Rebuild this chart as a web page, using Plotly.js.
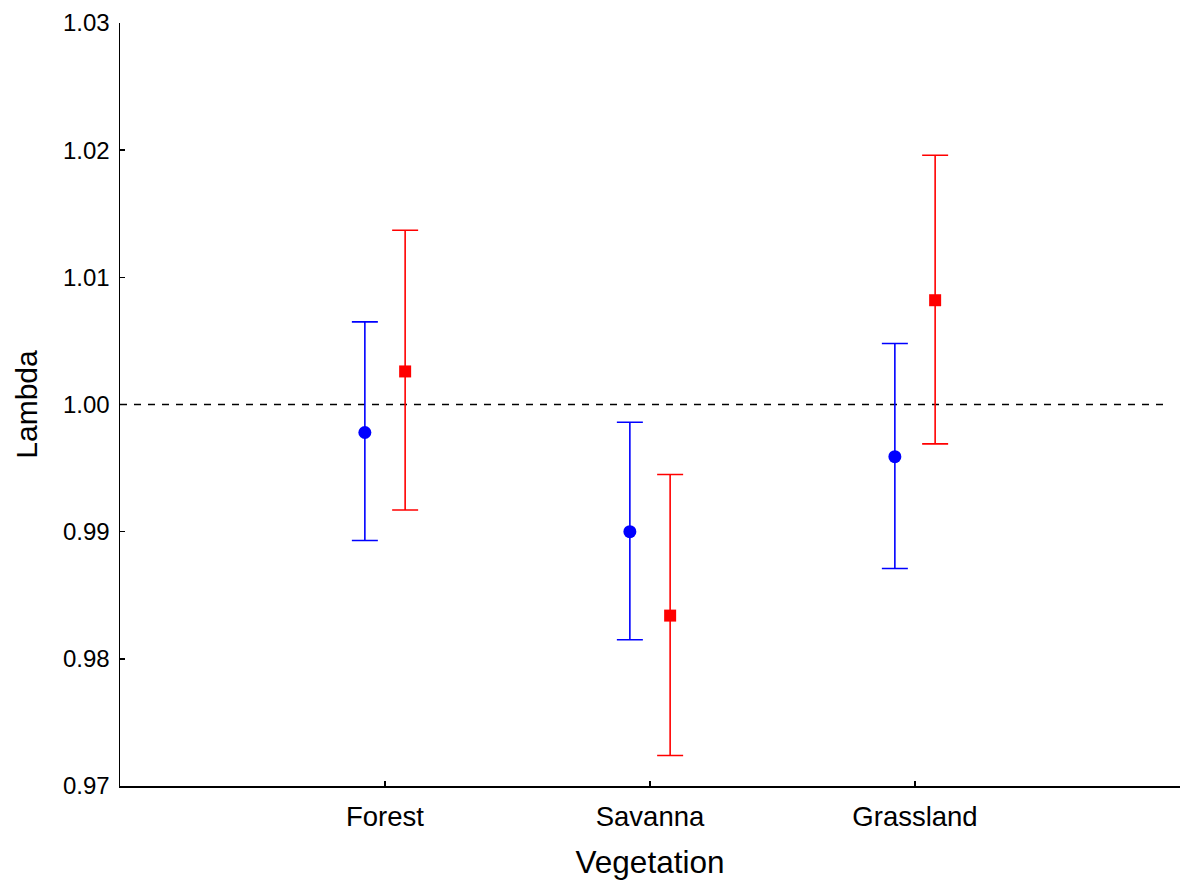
<!DOCTYPE html>
<html>
<head>
<meta charset="utf-8">
<script src="https://cdn.plot.ly/plotly-3.0.1.min.js"></script>
<style>html,body{margin:0;padding:0;background:#fff;}#chart{width:1181px;height:880px;}</style>
</head>
<body>
<div id="chart"></div>
<script>
// Data
const categories = ['Forest', 'Savanna', 'Grassland'];
const blueMean  = [0.9978, 0.9900, 0.9959];
const blueUpper = [1.0065, 0.9986, 1.0048];
const blueLower = [0.9893, 0.9815, 0.9871];
const redMean   = [1.0026, 0.9834, 1.0082];
const redUpper  = [1.0137, 0.9945, 1.0196];
const redLower  = [0.9917, 0.9724, 0.9969];
const yTickVals = [0.97, 0.98, 0.99, 1.00, 1.01, 1.02, 1.03];
const yTickText = ['0.97', '0.98', '0.99', '1.00', '1.01', '1.02', '1.03'];

const idx = categories.map((_, i) => i);
const off = 0.076;

const blue = {
  x: idx.map(i => i - off), y: blueMean, type: 'scatter', mode: 'markers',
  marker: {symbol: 'circle', size: 13, color: '#0000ff'},
  error_y: {type: 'data', symmetric: false,
    array: blueUpper.map((u, i) => u - blueMean[i]),
    arrayminus: blueLower.map((l, i) => blueMean[i] - l),
    color: '#0000ff', thickness: 1.6, width: 13},
  showlegend: false, hoverinfo: 'skip'
};
const red = {
  x: idx.map(i => i + off), y: redMean, type: 'scatter', mode: 'markers',
  marker: {symbol: 'square', size: 12, color: '#ff0000'},
  error_y: {type: 'data', symmetric: false,
    array: redUpper.map((u, i) => u - redMean[i]),
    arrayminus: redLower.map((l, i) => redMean[i] - l),
    color: '#ff0000', thickness: 1.6, width: 13},
  showlegend: false, hoverinfo: 'skip'
};

const font = {family: 'Liberation Sans, Arial, sans-serif', color: '#000'};

const layout = {
  width: 1181, height: 880,
  margin: {l: 120, r: 1, t: 23, b: 94, pad: 0},
  paper_bgcolor: '#fff', plot_bgcolor: '#fff',
  font: font,
  xaxis: {
    range: [-1, 3],
    tickvals: [0, 1, 2, 3], ticktext: categories.concat(['']),
    ticks: 'inside', ticklen: 5, tickwidth: 1.5, tickcolor: '#000',
    showline: true, linecolor: '#000', linewidth: 1.5,
    showgrid: false, zeroline: false,
    ticklabelstandoff: 5,
    tickfont: {size: 27.5, family: font.family, color: '#000'},
    title: {text: 'Vegetation', font: {size: 31.5, family: font.family, color: '#000'}, standoff: 20},
    automargin: false
  },
  yaxis: {
    range: [0.97, 1.03],
    tickvals: yTickVals, ticktext: yTickText,
    ticks: 'inside', ticklen: 5, tickwidth: 1.5, tickcolor: '#000',
    showline: true, linecolor: '#000', linewidth: 1.5,
    showgrid: false, zeroline: false,
    ticklabelstandoff: 4,
    tickfont: {size: 24, family: font.family, color: '#000'},
    title: {text: 'Lambda', font: {size: 30, family: font.family, color: '#000'}, standoff: 16},
    automargin: false
  },
  shapes: [{
    type: 'line', xref: 'x', yref: 'y', x0: -1, x1: 2.94, y0: 1.0, y1: 1.0,
    line: {color: '#000', width: 1.3, dash: '7px,7px'}, layer: 'below'
  }]
};

Plotly.newPlot('chart', [blue, red], layout, {staticPlot: true, displayModeBar: false});
</script>
</body>
</html>
